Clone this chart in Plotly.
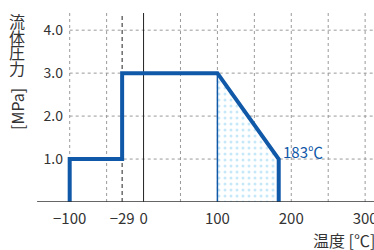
import plotly.graph_objects as go

# data
temp_c = [-100, -100, -29, -29, 100, 183, 183]
pressure_mpa = [0, 1.0, 1.0, 3.0, 3.0, 1.0, 0]
area_x = [100, 100, 183, 183, 100]
area_y = [0, 3.0, 1.0, 0, 0]
x_tickvals = [-100, -29, 0, 100, 200, 300]
x_ticktext = ["−100", "−29", "0", "100", "200", "300"]
y_tickvals = [1, 2, 3, 4]
y_ticktext = ["1.0", "2.0", "3.0", "4.0"]
x_grid = [-100, -50, 50, 100, 150, 200, 250, 300]
y_grid = [1, 2, 3, 4]

BLUE = "#1058a8"
FONT = "Noto Sans CJK JP"
XR = [-105, 312]
YR = [0, 4.4]

fig = go.Figure()

# dotted area
fig.add_trace(go.Scatter(
    x=area_x, y=area_y, mode="lines", fill="toself",
    line=dict(width=0), fillcolor="white",
    fillpattern=dict(shape=".", fgcolor="#8ed2f3", bgcolor="white", size=6, solidity=0.2),
    hoverinfo="skip", showlegend=False))
# thin left edge of area
fig.add_trace(go.Scatter(x=[area_x[0], area_x[1]], y=[area_y[0], area_y[1]], mode="lines",
                         line=dict(color=BLUE, width=1.5), showlegend=False, hoverinfo="skip"))
# main line
fig.add_trace(go.Scatter(x=temp_c, y=pressure_mpa, mode="lines",
                         line=dict(color=BLUE, width=4), showlegend=False, hoverinfo="skip"))

shapes = []
for gx in x_grid:
    shapes.append(dict(type="line", xref="x", yref="y", x0=gx, x1=gx, y0=0, y1=YR[1],
                       line=dict(color="#9a9a9a", width=1, dash="3px,3px"), layer="below"))
for gy in y_grid:
    shapes.append(dict(type="line", xref="x", yref="y", x0=-100, x1=XR[1], y0=gy, y1=gy,
                       line=dict(color="#9a9a9a", width=1, dash="3px,3px"), layer="below"))
# -29 dashed black and 0 solid black
shapes.append(dict(type="line", xref="x", yref="y", x0=-29, x1=-29, y0=0, y1=YR[1],
                   line=dict(color="#222", width=1, dash="4px,3px"), layer="below"))
shapes.append(dict(type="line", xref="x", yref="y", x0=0, x1=0, y0=0, y1=YR[1],
                   line=dict(color="#222", width=1), layer="below"))
# baseline
shapes.append(dict(type="line", xref="paper", yref="y", x0=-0.094, x1=1, y0=0, y1=0,
                   line=dict(color="#333", width=1.5)))

annotations = []
ychars = [("流", 21), ("体", 37), ("圧", 52), ("力", 68)]
H = 250
for ch, py in ychars:
    annotations.append(dict(text=ch, xref="paper", yref="paper", x=(17 - 66) / 308,
                            y=(H - 48 - py) / 189, showarrow=False, xanchor="center", yanchor="middle",
                            font=dict(family=FONT, size=16, color="#333")))
annotations.append(dict(text="[MPa]", textangle=-90, xref="paper", yref="paper", x=(17 - 66) / 308,
                        y=(H - 48 - 109) / 189, showarrow=False, xanchor="center", yanchor="middle",
                        font=dict(family=FONT, size=16, color="#333")))
annotations.append(dict(text="183℃", xref="x", yref="y", x=186, y=1.18, showarrow=False,
                        xanchor="left", yanchor="middle", font=dict(family=FONT, size=15, color=BLUE)))
annotations.append(dict(text="温度 [℃]", xref="paper", yref="paper", x=(311 - 66) / 308,
                        y=(H - 48 - 240) / 189, showarrow=False, xanchor="left", yanchor="middle",
                        font=dict(family=FONT, size=16, color="#333")))

fig.update_layout(
    width=374, height=250,
    margin=dict(l=66, r=0, t=13, b=48, autoexpand=False),
    paper_bgcolor="white", plot_bgcolor="white",
    font=dict(family=FONT, size=15, color="#333"),
    xaxis=dict(range=XR, showgrid=False, zeroline=False, showline=False, automargin=False,
               tickvals=x_tickvals, ticktext=x_ticktext, ticks="", fixedrange=True,
               tickfont=dict(size=15, color="#333"), ticklabelstandoff=6,
               ticklabeloverflow="allow"),
    yaxis=dict(range=YR, showgrid=False, zeroline=False, showline=False, automargin=False,
               tickvals=y_tickvals, ticktext=y_ticktext, ticks="", fixedrange=True,
               tickfont=dict(size=14, color="#333"), ticklabelstandoff=2),
    shapes=shapes, annotations=annotations,
)

fig.write_html("out.html", config={"displayModeBar": False},
               post_script="document.body.style.margin='0';document.body.style.overflow='hidden';")
